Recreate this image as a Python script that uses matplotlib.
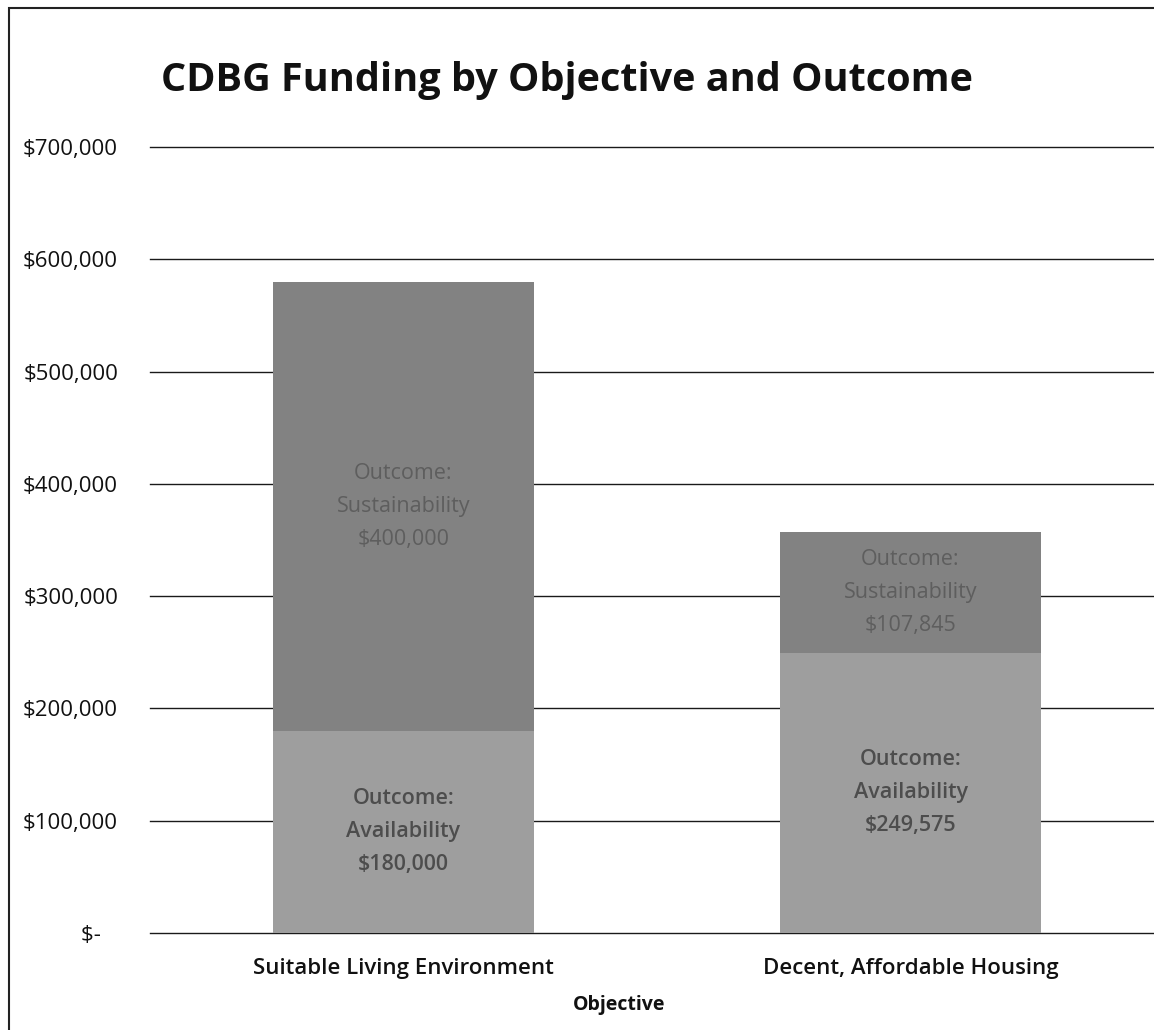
import matplotlib
matplotlib.use("Agg")
import matplotlib.pyplot as plt
from matplotlib.patches import Rectangle
from matplotlib.ticker import FuncFormatter

categories = ["Suitable Living Environment", "Decent, Affordable Housing"]
availability = [180000, 249575]
sustainability = [400000, 107845]
avail_labels = ["Outcome:\nAvailability\n$180,000", "Outcome:\nAvailability\n$249,575"]
sust_labels = ["Outcome:\nSustainability\n$400,000", "Outcome:\nSustainability\n$107,845"]
yticks = [0, 100000, 200000, 300000, 400000, 500000, 600000, 700000]

plt.rcParams['font.family'] = ['Open Sans', 'DejaVu Sans']

fig = plt.figure(figsize=(11.54, 10.30), dpi=100)
ax = fig.add_axes([150/1154, 1-933/1030, 1014/1154, (933-147)/1030])

x = [0, 1]
w = 0.515
ax.bar(x, availability, width=w, color="#9e9e9e", zorder=3)
ax.bar(x, sustainability, width=w, bottom=availability, color="#828282", zorder=3)

for i in x:
    ax.text(i, availability[i] / 2, avail_labels[i], ha="center", va="center",
            fontsize=15.5, color="#4d4d4d", fontweight="semibold", zorder=4, linespacing=1.75)
    ax.text(i, availability[i] + sustainability[i] / 2, sust_labels[i], ha="center",
            va="center", fontsize=15.5, color="#5e5e5e", zorder=4, linespacing=1.75)

ax.set_xlim(-0.5, 1.5)
ax.set_ylim(0, 700000)
ax.set_yticks(yticks)
ax.yaxis.set_major_formatter(FuncFormatter(lambda v, p: "$-   " if v == 0 else f"${v:,.0f}"))
ax.grid(axis="y", color="#1a1a1a", linewidth=1.0, zorder=1)
for gl in ax.get_ygridlines():
    gl.set_clip_on(False)
ax.set_axisbelow(True)
for s in ax.spines.values():
    s.set_visible(False)
ax.tick_params(axis="y", length=0, pad=23, labelsize=16, labelcolor="#111111")
ax.tick_params(axis="x", length=0, pad=18, labelsize=16, labelcolor="#111111")
ax.set_xticks(x)
ax.set_xticklabels(categories, fontweight="semibold")

ax.set_xlabel("Objective", fontsize=14, fontweight="bold", color="#111111", va="center")
ax.xaxis.set_label_coords((619 - 150) / 1014, -(1005 - 933) / (933 - 147))

fig.text(567/1154, 1-80/1030, "CDBG Funding by Objective and Outcome", ha="center",
         va="center", fontsize=28.5, fontweight="bold", color="#111111")

fig.patches.append(Rectangle((9/1154, -0.05), 1.2, 1-8/1030+0.05, transform=fig.transFigure,
                             fill=False, edgecolor="#222222", linewidth=1.5))

fig.savefig("out.png", dpi=100)
